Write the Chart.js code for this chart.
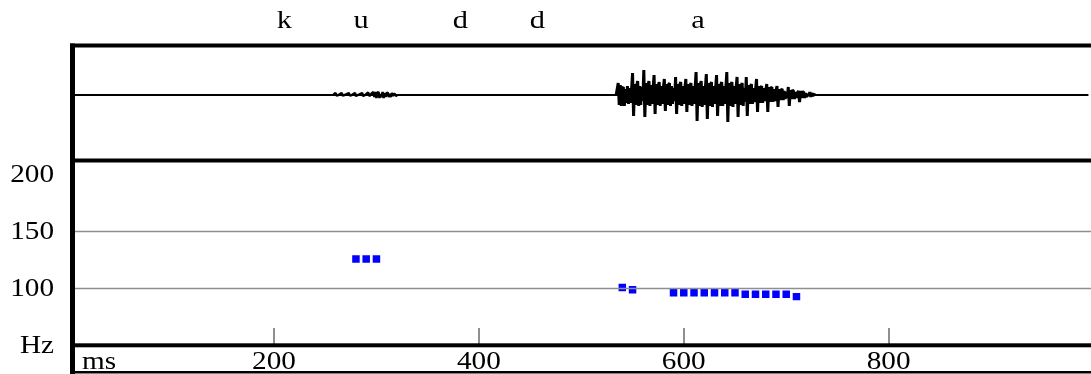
<!DOCTYPE html>
<html>
<head>
<meta charset="utf-8">
<script src="https://cdn.jsdelivr.net/npm/chart.js@4/dist/chart.umd.min.js"></script>
<style>
html,body{margin:0;padding:0;background:#fff;}
canvas{display:block;}
#fl{font-family:"Liberation Serif";position:absolute;left:-999px;top:0;}
</style>
</head>
<body>
<span id="fl">kud a 0123456789 Hz ms</span>
<canvas id="c" width="1091" height="374"></canvas>
<script>
// ---- data ----
const phonemes = ['k', 'u', 'd', 'd', 'a'];
const phonemeTimes = [210, 285, 382, 457, 614];

const xTickValues = [200, 400, 600, 800];
const xUnitLabel = 'ms';
const yTickValues = [50, 100, 150, 200];
const yTickLabels = ['Hz', '100', '150', '200'];
const yGridValues = [100, 150];

// pitch track (ms, Hz)
const pitchTimes = [280, 290, 300, 540, 550, 590, 600, 610, 620, 630, 640, 650, 660, 670, 680, 690, 700, 710];
const pitchHz =    [125, 125, 125, 100, 98, 95.5, 95.5, 95.5, 95.5, 95.5, 95.5, 95.5, 94, 94, 94, 94, 94, 92];

// waveform baseline (ms)
const baseTimes = [3, 995];
const baseAmps = [0, 0];

// waveform segment for "u"
const uWaveT = [258,260,261,263,266,267,269,273,274,276,
                279,280,282,286,287,289,292,293,295,297,
                298,299,300,301,302,303,304,305,306,307,
                308,309,310,311,312,313,314,315,316,317,
                318,319,320];
const uWaveA = [0,2,-0.5,0,2,-0.5,0,2,-0.5,0,
                2,-1,0,2,-1,0,2.5,-1,1,3,
                -2,3,-3,2,3,-3,1,-2,3,-3,
                2,-2,2,2.5,-2,1,-2,2,-1,1,
                1,-1,0];

// waveform segment for "a"
const aWaveT = [534,
  536,537,538,539,540,541,542,543,544,545,
  546,547,548,549,550,551,552,553,554,555,
  556,557,558,559,560,561,562,563,564,565,
  566,567,568,569,570,571,572,573,574,575,
  576,577,578,579,580,581,582,583,584,585,
  586,587,588,589,590,591,592,593,594,595,
  596,597,598,599,600,601,602,603,604,605,
  606,607,608,609,610,611,612,613,614,615,
  616,617,618,619,620,621,622,623,624,625,
  626,627,628,629,630,631,632,633,634,635,
  636,637,638,639,640,641,642,643,644,645,
  646,647,648,649,650,651,652,653,654,655,
  656,657,658,659,660,661,662,663,664,665,
  666,667,668,669,670,671,672,673,674,675,
  676,677,678,679,680,681,682,683,684,685,
  686,687,688,689,690,691,692,693,694,695,
  696,697,698,699,700,701,702,703,704,705,
  706,707,708,709,710,711,712,713,714,715,
  716,717,718,719,720,721,722,723,724,725,
  726,727,728];
const aWaveA = [0,
  12,-10,10,-11,7,8,-11,6,-8,9,
  -9,7,-8,5,22,-21,11,-10,9,14,
  -11,9,-10,8,-6,25,-22,12,-10,9,
  14,-11,10,-9,6,20,-19,11,-10,9,
  13,-11,9,-9,6,16,-16,11,-10,10,
  12,-11,9,-9,7,-6,18,-19,11,-10,
  10,13,-11,9,-9,6,16,-17,11,-10,
  9,12,-11,9,-9,6,23,-26,12,-11,
  10,14,-12,9,-10,6,21,-24,12,-11,
  10,13,-12,9,-9,6,20,-21,11,-11,
  10,13,-11,9,-9,6,23,-27,12,-11,
  10,13,-12,9,-9,6,18,-22,11,-10,
  9,12,-11,7,-7,18,-21,10,-9,8,
  11,-9,7,-7,4,16,-17,9,-8,7,
  9,-8,7,-6,4,11,-17,8,-7,7,
  8,-7,6,-6,4,9,-12,6,-5,5,
  6,-5,4,-4,3,-3,8,-11,5,-4,
  5,4,-4,3,-3,2,4,-7,4,-3,
  3,3,-3,2,-2,1,-1,3,-2,2,
  -1,1,0];

// ---- build library data ----
const toPts = (ts, as) => ts.map((t, i) => ({x: t, y: as[i]}));
const basePoints = toPts(baseTimes, baseAmps);
const uPoints = toPts(uWaveT, uWaveA);
const aPoints = toPts(aWaveT, aWaveA);
const pitchPoints = toPts(pitchTimes, pitchHz);

const FONT = '"Liberation Serif", "Times New Roman", serif';
const STRETCH = 1.17;

function stretchedText(ctx, txt, x, y, align, size) {
  ctx.save();
  ctx.font = size + 'px ' + FONT;
  ctx.fillStyle = '#000';
  ctx.textBaseline = 'alphabetic';
  ctx.textAlign = align;
  ctx.translate(x, y);
  ctx.scale(STRETCH, 1);
  ctx.fillText(txt, 0, 0);
  ctx.restore();
}

const framePlugin = {
  id: 'frame',
  afterDatasetsDraw(chart) {
    const ctx = chart.ctx;
    const yp = chart.scales.yp;
    const W = chart.width;
    ctx.save();
    ctx.strokeStyle = '#8f8f8f';
    ctx.lineWidth = 1.6;
    yGridValues.forEach(v => {
      const y = Math.round(yp.getPixelForValue(v)) + 0.5;
      ctx.beginPath(); ctx.moveTo(75, y); ctx.lineTo(W, y); ctx.stroke();
    });
    ctx.restore();
  },
  afterDraw(chart) {
    const ctx = chart.ctx;
    const x = chart.scales.x;
    const yp = chart.scales.yp;
    const W = chart.width;
    ctx.save();
    ctx.strokeStyle = '#8f8f8f';
    ctx.lineWidth = 2;
    xTickValues.forEach(v => {
      const px = Math.round(x.getPixelForValue(v));
      ctx.beginPath(); ctx.moveTo(px, 328); ctx.lineTo(px, 344); ctx.stroke();
    });
    ctx.fillStyle = '#000';
    ctx.fillRect(70, 43.5, W - 70, 4);       // top border
    ctx.fillRect(70, 158.5, W - 70, 4);      // panel divider
    ctx.fillRect(70, 343.3, W - 70, 4);      // time axis line
    ctx.fillRect(70, 371, W - 70, 2.5);      // bottom border
    ctx.fillRect(70, 43.5, 5, 374 - 43.5);   // left border
    ctx.restore();

    yTickValues.forEach((v, i) => {
      stretchedText(ctx, yTickLabels[i], 54, yp.getPixelForValue(v) + 8.3, 'right', 25);
    });
    xTickValues.forEach(v => {
      stretchedText(ctx, String(v), x.getPixelForValue(v), 369, 'center', 25);
    });
    stretchedText(ctx, xUnitLabel, 82, 369, 'left', 25);
    phonemes.forEach((p, i) => {
      stretchedText(ctx, p, x.getPixelForValue(phonemeTimes[i]), 28.3, 'center', 26);
    });
  }
};

function waveDs(points, width) {
  return {
    type: 'line', data: points, xAxisID: 'x', yAxisID: 'yw',
    borderColor: '#000', borderWidth: width, borderJoinStyle: 'bevel',
    pointRadius: 0, tension: 0, fill: false
  };
}

function build() {
  new Chart(document.getElementById('c'), {
    data: {
      datasets: [
        waveDs(basePoints, 2),
        waveDs(uPoints, 2.5),
        waveDs(aPoints, 3),
        {
          type: 'scatter', data: pitchPoints, xAxisID: 'x', yAxisID: 'yp',
          pointStyle: 'rect', pointRadius: 5.3, backgroundColor: '#0000ff', borderWidth: 0
        }
      ]
    },
    options: {
      responsive: false,
      devicePixelRatio: 1,
      animation: false,
      layout: { autoPadding: false, padding: { left: 69.1, right: 0, top: 45.5, bottom: 28.7 } },
      plugins: { legend: { display: false }, tooltip: { enabled: false } },
      scales: {
        x: { type: 'linear', min: 0, max: 997.5, display: false },
        yw: { type: 'linear', min: -250.3, max: 49.5, display: false },
        yp: { type: 'linear', min: 49.3, max: 312.3, display: false }
      }
    },
    plugins: [framePlugin]
  });
}

let built = false;
function go() { if (!built) { built = true; build(); } }
if (document.fonts && document.fonts.load) {
  Promise.all([document.fonts.load('25px "Liberation Serif"'), document.fonts.load('26px "Liberation Serif"')])
    .then(go, go);
  setTimeout(go, 500);
} else {
  go();
}
</script>
</body>
</html>
